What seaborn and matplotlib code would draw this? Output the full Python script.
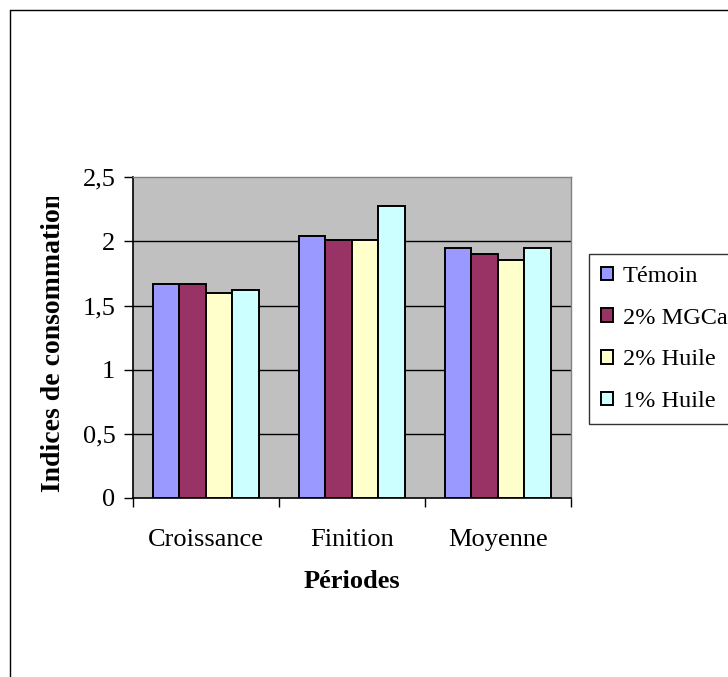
import matplotlib
matplotlib.use("Agg")
import matplotlib.pyplot as plt
import seaborn as sns
import pandas as pd
from matplotlib.lines import Line2D
from matplotlib.transforms import Bbox, TransformedBbox

periods = ["Croissance", "Finition", "Moyenne"]
series = ["Témoin", "2% MGCa", "2% Huile", "1% Huile"]
temoin = [1.67, 2.04, 1.95]
mgca = [1.67, 2.01, 1.90]
huile2 = [1.60, 2.01, 1.855]
huile1 = [1.62, 2.28, 1.95]
colors = ["#9999FF", "#993366", "#FFFFCC", "#CCFFFF"]
yticks = [0, 0.5, 1, 1.5, 2, 2.5]
ytick_labels = ["0", "0,5", "1", "1,5", "2", "2,5"]

rows = []
for s, vals in zip(series, [temoin, mgca, huile2, huile1]):
    for p, v in zip(periods, vals):
        rows.append({"Période": p, "Série": s, "Valeur": v})
df = pd.DataFrame(rows)

sns.set_theme(style="white")
plt.rcParams["font.family"] = ["Liberation Serif", "DejaVu Serif"]
plt.rcParams["text.color"] = "black"
plt.rcParams["axes.labelcolor"] = "black"
plt.rcParams["xtick.color"] = "black"
plt.rcParams["ytick.color"] = "black"

FS = 19
LFS = 17.5
W, H = 728, 677
fig = plt.figure(figsize=(W / 100, H / 100), dpi=100)
fig.patch.set_facecolor("white")
ax = fig.add_axes([132.7 / W, (H - 498) / H, 438 / W, 320.7 / H])
ax.set_facecolor("#C0C0C0")

sns.barplot(data=df, x="Période", y="Valeur", hue="Série", order=periods,
            hue_order=series, palette=colors, width=0.726, edgecolor="black",
            linewidth=1.4, saturation=1, ax=ax, legend=True, zorder=3)

ax.set_ylim(0, 2.5)
ax.set_xlim(-0.5, 2.5)
ax.set_yticks(yticks)
ax.set_yticklabels(ytick_labels, fontsize=FS)
for y in yticks[1:-1]:
    ax.axhline(y, color="black", linewidth=1.0, zorder=1)

ax.set_xticks(range(len(periods)))
ax.set_xticklabels(periods, fontsize=FS)
ax.set_xticks([-0.5, 0.5, 1.5, 2.5], minor=True)
ax.tick_params(axis="x", which="major", length=0, pad=22)
ax.tick_params(axis="x", which="minor", length=6.5, width=1, color="black",
               direction="out", bottom=True)
ax.tick_params(axis="y", which="major", length=6.5, width=1, color="black",
               direction="out", left=True, pad=6)

for side in ["left", "bottom"]:
    ax.spines[side].set_color("black")
    ax.spines[side].set_linewidth(1.2)
for side in ["top", "right"]:
    ax.spines[side].set_color("#808080")
    ax.spines[side].set_linewidth(1.0)
    ax.spines[side].set_visible(True)

ax.set_xlabel("Périodes", fontsize=FS, fontweight="bold", labelpad=14)
ax.set_ylabel("")

ylab = fig.text(54 / W, 1 - 342 / H, "Indices de consommation", rotation=90,
                fontsize=20, fontweight="bold", ha="center", va="center")
ylab.set_clip_on(True)
ylab.set_clip_box(TransformedBbox(Bbox([[0, 0], [1, (H - 197) / H]]), fig.transFigure))

handles, labels = ax.get_legend_handles_labels()
ax.get_legend().remove()
leg = fig.legend(handles, labels, loc="upper left",
                 bbox_to_anchor=(588.5 / W, 1 - 254 / H), fontsize=LFS,
                 frameon=True, fancybox=False, edgecolor="black",
                 handlelength=0.5, handleheight=0.5, handletextpad=0.4,
                 labelspacing=0.85, borderpad=0.5, borderaxespad=0)
leg.get_frame().set_linewidth(1.0)
for h in leg.legend_handles:
    h.set_edgecolor("black")
    h.set_linewidth(1.4)

fig.add_artist(Line2D([10 / W, 10 / W], [0, 1 - 10 / H], color="black",
                      linewidth=1.0, transform=fig.transFigure))
fig.add_artist(Line2D([10 / W, 1], [1 - 10 / H, 1 - 10 / H], color="black",
                      linewidth=1.0, transform=fig.transFigure))

fig.savefig("out.png", dpi=100)
